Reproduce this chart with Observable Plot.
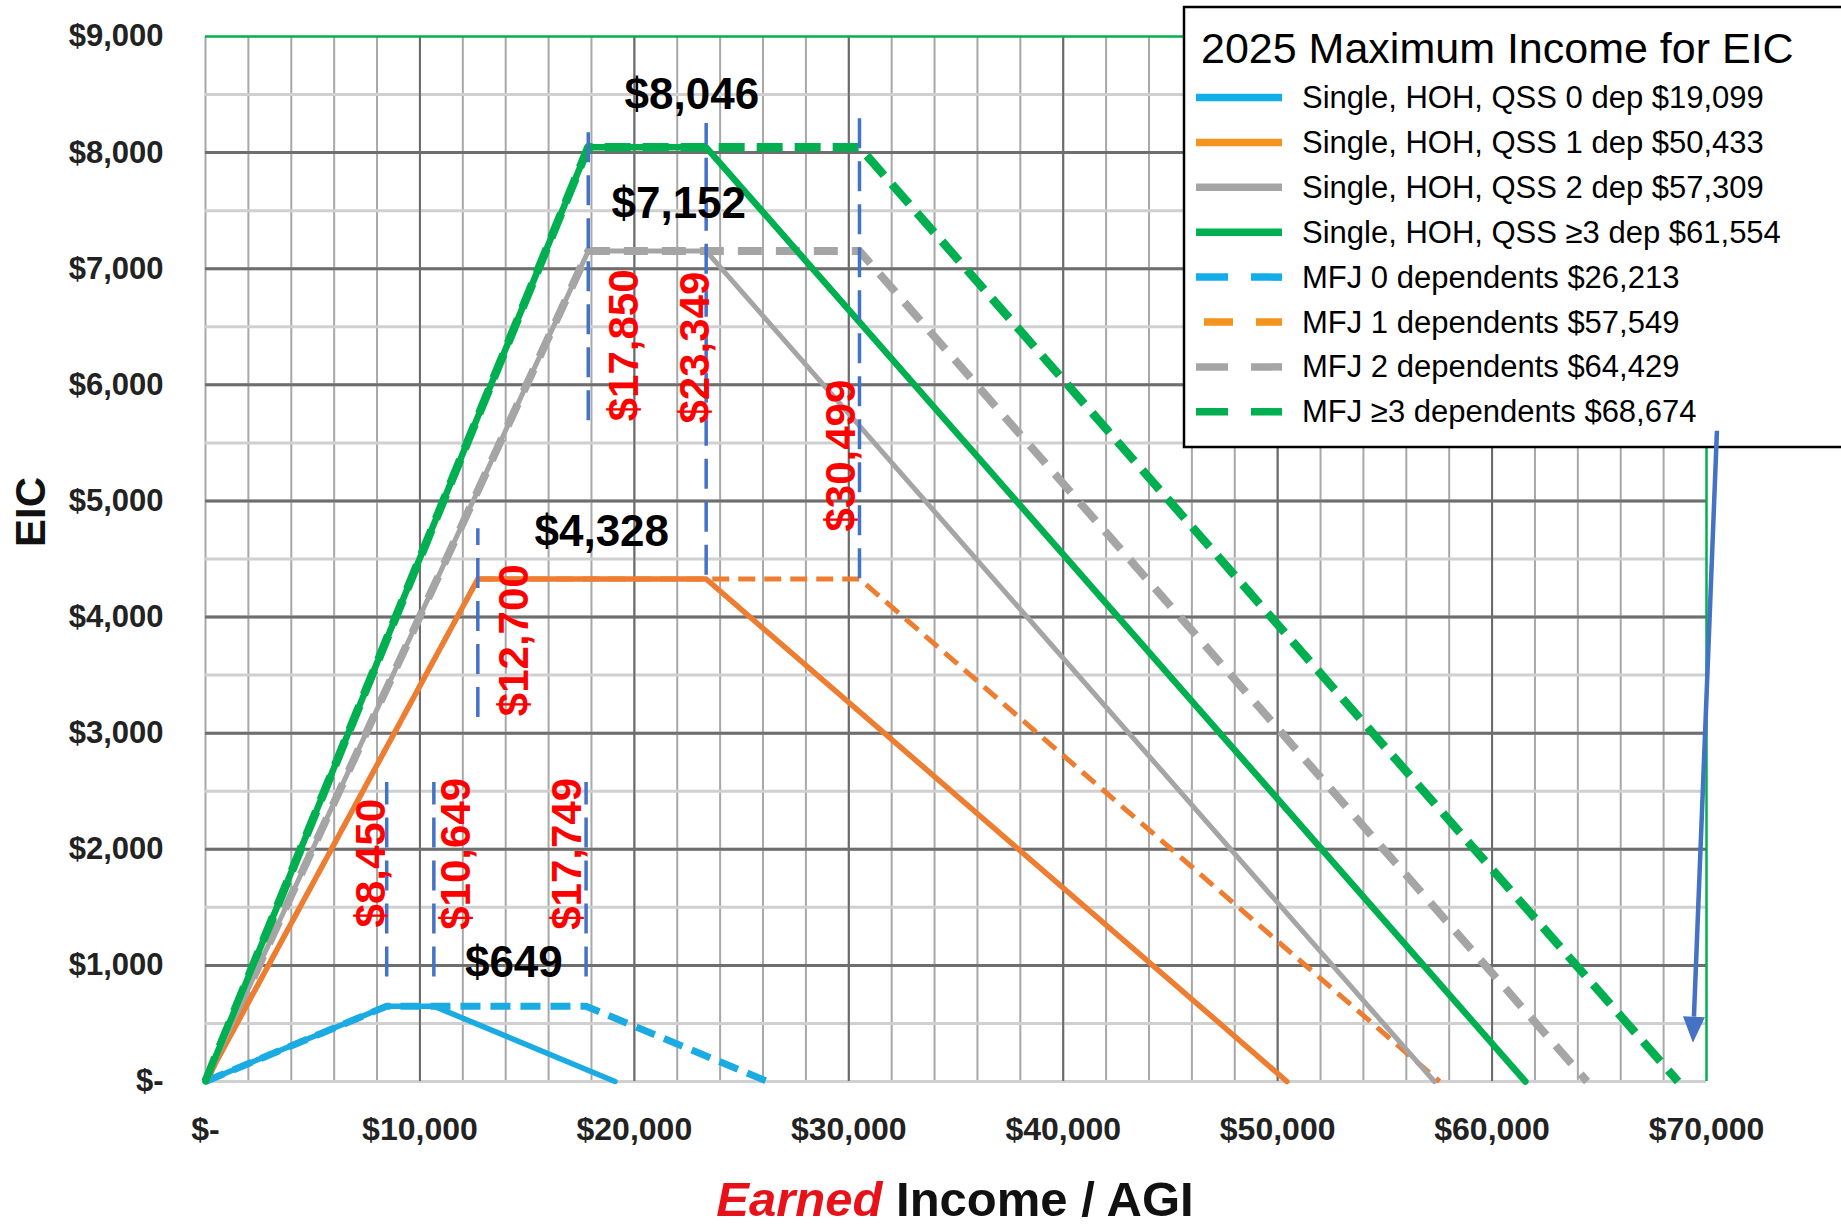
<!DOCTYPE html>
<html><head><meta charset="utf-8">
<script src="https://cdn.jsdelivr.net/npm/d3@7"></script>
<script src="https://cdn.jsdelivr.net/npm/@observablehq/plot@0.6"></script>
<style>
html,body{margin:0;padding:0;background:#fff;overflow:hidden;}
#chart{width:1841px;height:1224px;}
</style></head>
<body><div id="chart"></div>
<script>
// ---- data ----
const seriesNames = ["Single, HOH, QSS 0 dep", "Single, HOH, QSS 1 dep", "Single, HOH, QSS 2 dep", "Single, HOH, QSS \u22653 dep",
                     "MFJ 0 dependents", "MFJ 1 dependents", "MFJ 2 dependents", "MFJ \u22653 dependents"];
const phaseInEnd    = [8450, 12700, 17850, 17850, 8450, 12700, 17850, 17850];
const maxCredit     = [649, 4328, 7152, 8046, 649, 4328, 7152, 8046];
const phaseOutStart = [10649, 23349, 23349, 23349, 17749, 30499, 30499, 30499];
const maxIncome     = [19099, 50433, 57309, 61554, 26213, 57549, 64429, 68674];

const creditLabels  = ["$8,046", "$7,152", "$4,328", "$649"];
const creditLabelX  = [22680, 22070, 18480, 14380];
const creditLabelY  = [8500, 7560, 4730, 1025];

const markerValues  = [8450, 10649, 17749, 12700, 17850, 23349, 30499];
const markerTexts   = ["$8,450", "$10,649", "$17,749", "$12,700", "$17,850", "$23,349", "$30,499"];
const markerLow     = [900, 900, 900, 3135, 5690, 4360, 4330];
const markerHigh    = [2575, 2575, 2575, 4760, 8220, 8250, 8300];
const markerTextX   = [7750, 11700, 16900, 14420, 19550, 22870, 29680];
const markerTextY   = [1880, 1960, 1960, 3800, 6340, 6320, 5390];

const arrowFrom = {x: 70510, y: 5600};
const arrowTo   = {x: 69390, y: 330};

const xTicks = [0, 10000, 20000, 30000, 40000, 50000, 60000, 70000];
const yTicks = [0, 1000, 2000, 3000, 4000, 5000, 6000, 7000, 8000, 9000];
const legendTitle = "2025 Maximum Income for EIC";

// ---- styles ----
const seriesColor = ["#1BABE3", "#ED7D31", "#A5A5A5", "#00B050", "#1BABE3", "#ED7D31", "#A5A5A5", "#00B050"];
const legendColor = ["#13AEEA", "#F4931E", "#A5A5A5", "#00B050", "#13AEEA", "#F4931E", "#A5A5A5", "#00B050"];
const seriesWidth = [5.5, 5.5, 5, 6.5, 7, 5, 8, 8.5];
const seriesDash  = [null, null, null, null, "20,10", "17,9", "24,14", "26,12"];

const money = d => d === 0 ? "$-" : "$" + d3.format(",")(d);

const rows = [];
seriesNames.forEach((name, i) => {
  const xs = [0, phaseInEnd[i], phaseOutStart[i], maxIncome[i]];
  const ys = [0, maxCredit[i], maxCredit[i], 0];
  xs.forEach((x, j) => rows.push({series: i, x, y: ys[j]}));
});
const creditData = creditLabels.map((t, i) => ({text: t, x: creditLabelX[i], y: creditLabelY[i]}));
const markerData = markerValues.map((v, i) => ({x: v, y1: markerLow[i], y2: markerHigh[i], text: markerTexts[i], tx: markerTextX[i], ty: markerTextY[i]}));

const drawOrder = [4, 5, 6, 7, 0, 1, 2, 3];
const FONT = "'Liberation Sans', Arial, sans-serif";

const chart = Plot.plot({
  width: 1841, height: 1224,
  marginLeft: 205, marginRight: 135, marginTop: 36, marginBottom: 143,
  x: {domain: [0, 70000]},
  y: {domain: [0, 9000]},
  style: {fontFamily: FONT, background: "#fff", overflow: "visible"},
  marks: [
    Plot.ruleX(d3.range(0, 70000, 2000), {stroke: "#A8A8A8", strokeWidth: 2}),
    Plot.ruleY(d3.range(0, 9000, 500), {stroke: "#D0D0D0", strokeWidth: 3}),
    Plot.ruleX(d3.range(10000, 70000, 10000), {stroke: "#6A6A6A", strokeWidth: 2}),
    Plot.ruleY(d3.range(1000, 9000, 1000), {stroke: "#6E6E6E", strokeWidth: 3}),
    Plot.ruleY([9000], {stroke: "#00B050", strokeWidth: 2.5}),
    Plot.ruleX([70000], {stroke: "#00B050", strokeWidth: 2.5}),
    Plot.axisX({ticks: xTicks, tickFormat: money, tickSize: 0, tickPadding: 36, fontSize: 32, fontWeight: "bold", fill: "#222", label: null}),
    Plot.axisY({ticks: yTicks, tickFormat: money, tickSize: 0, tickPadding: 42, fontSize: 31, fontWeight: "bold", fill: "#222", label: null}),
    ...drawOrder.map(i => Plot.line(rows.filter(r => r.series === i), {
      x: "x", y: "y", stroke: seriesColor[i], strokeWidth: seriesWidth[i],
      strokeDasharray: seriesDash[i], strokeLinecap: seriesDash[i] ? "butt" : "round", strokeLinejoin: "round"
    })),
    Plot.ruleX(markerData, {x: "x", y1: "y1", y2: "y2", stroke: "#4472C4", strokeWidth: 3.5, strokeDasharray: "30,13"}),
    Plot.text(markerData, {x: "tx", y: "ty", text: "text", rotate: -90, fill: "#FF0000", fontSize: 42, fontWeight: "bold"}),
    Plot.text(creditData, {x: "x", y: "y", text: "text", fill: "#000", fontSize: 44, fontWeight: "bold"}),
    Plot.text(["EIC"], {frameAnchor: "left", dx: -174, dy: -12, rotate: -90, fontSize: 42, fontWeight: "bold", fill: "#111"})
  ]
});
document.getElementById("chart").appendChild(chart);

const svg = d3.select(chart);
// x-axis title with mixed styling
const xt = svg.append("text").attr("x", 955).attr("y", 1199).attr("text-anchor", "middle")
  .attr("dominant-baseline", "central").style("font-family", FONT).style("font-size", "49px").style("font-weight", "bold");
xt.append("tspan").text("Earned").attr("fill", "#E8111A").style("font-style", "italic");
xt.append("tspan").text(" Income / AGI").attr("fill", "#111");

// legend (drawn into the same svg)
const lg = svg.append("g").attr("text-anchor", "start");
lg.append("rect").attr("x", 1184).attr("y", 7).attr("width", 700).attr("height", 440)
  .attr("fill", "#fff").attr("stroke", "#000").attr("stroke-width", 2.5);
lg.append("text").attr("x", 1201).attr("y", 48).attr("text-anchor", "start").attr("dominant-baseline", "central")
  .style("font-family", FONT).style("font-size", "43px").attr("fill", "#000").text(legendTitle);
seriesNames.forEach((name, i) => {
  const cy = 97.5 + i * 44.9;
  const dashed = seriesDash[i] != null;
  lg.append("line").attr("x1", i === 5 ? 1204 : 1196).attr("x2", 1282).attr("y1", cy).attr("y2", cy)
    .attr("stroke", legendColor[i]).attr("stroke-width", 7.5)
    .attr("stroke-dasharray", dashed ? (i === 5 ? "29,23" : "32,23") : null);
  lg.append("text").attr("x", 1302).attr("y", cy).attr("text-anchor", "start").attr("dominant-baseline", "central")
    .style("font-family", FONT).style("font-size", "31px").attr("fill", "#000")
    .text(name + " " + money(maxIncome[i]));
});

// arrow from the legend down to the last break-even point
const xs = chart.scale("x"), ys = chart.scale("y");
const px1 = xs.apply(arrowFrom.x), py1 = ys.apply(arrowFrom.y);
const px2 = xs.apply(arrowTo.x), py2 = ys.apply(arrowTo.y);
const ang = Math.atan2(py2 - py1, px2 - px1);
const L = 26, Wd = 11;
const bx = px2 - L * Math.cos(ang), by = py2 - L * Math.sin(ang);
const nx = -Math.sin(ang), ny = Math.cos(ang);
svg.append("line").attr("x1", px1).attr("y1", py1).attr("x2", bx).attr("y2", by)
  .attr("stroke", "#4472C4").attr("stroke-width", 4.5);
svg.append("path").attr("d", `M${px2},${py2}L${bx + nx * Wd},${by + ny * Wd}L${bx - nx * Wd},${by - ny * Wd}Z`)
  .attr("fill", "#4472C4");
</script>
</body></html>
